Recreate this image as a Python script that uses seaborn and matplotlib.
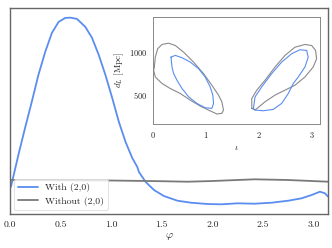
import numpy as np
import pandas as pd
import matplotlib
matplotlib.use("Agg")
import matplotlib.pyplot as plt
import seaborn as sns

# ---- main panel data (phi, relative density) ----
phi_with = [0.00, 0.01, 0.083, 0.149, 0.215, 0.281, 0.348, 0.414, 0.48, 0.546, 0.596, 0.662,
            0.745, 0.811, 0.877, 0.943, 1.010, 1.076, 1.142, 1.175, 1.208, 1.258, 1.274, 1.341,
            1.423, 1.52, 1.655, 1.787, 1.953, 2.085, 2.251, 2.416, 2.582, 2.748, 2.88, 2.979,
            3.062, 3.111, 3.1416]
dens_with = [0.265, 0.273, 0.59, 0.86, 1.12, 1.39, 1.62, 1.81, 1.92, 1.96, 1.963, 1.95,
             1.87, 1.76, 1.59, 1.39, 1.16, 0.92, 0.72, 0.64, 0.56, 0.47, 0.42, 0.32,
             0.24, 0.18, 0.133, 0.113, 0.100, 0.097, 0.107, 0.103, 0.113, 0.133, 0.157, 0.19,
             0.223, 0.207, 0.175]
phi_without = [0.0, 0.5, 1.0, 1.5, 1.755, 2.0, 2.416, 2.748, 3.1416]
dens_without = [0.340, 0.338, 0.335, 0.328, 0.323, 0.330, 0.347, 0.340, 0.323]

# ---- inset contour outlines (iota, d_L) ----
grey_left_iota = [0.024, 0.043, 0.087, 0.169, 0.294, 0.419, 0.576, 0.763, 0.951, 1.109, 1.234,
                  1.297, 1.328, 1.297, 1.203, 1.045, 0.889, 0.701, 0.513, 0.325, 0.169, 0.043,
                  0.011, 0.024]
grey_left_dl = [820, 936, 1034, 1084, 1099, 1072, 994, 878, 743, 607, 491, 413, 316, 278, 270,
                316, 363, 432, 510, 568, 627, 703, 781, 820]
blue_left_iota = [0.338, 0.357, 0.388, 0.451, 0.545, 0.670, 0.827, 0.983, 1.109, 1.140, 1.127,
                  1.077, 0.983, 0.857, 0.701, 0.545, 0.419, 0.338]
blue_left_dl = [936, 820, 743, 665, 569, 471, 394, 343, 336, 394, 491, 587, 703, 801, 878, 929,
                956, 936]
grey_right_iota = [1.861, 1.861, 1.955, 2.111, 2.299, 2.487, 2.675, 2.863, 2.989, 3.064, 3.083,
                   3.019, 2.863, 2.675, 2.487, 2.299, 2.111, 1.923, 1.861]
grey_right_dl = [336, 452, 549, 665, 820, 956, 1052, 1084, 1072, 1014, 917, 820, 703, 607, 549,
                 491, 413, 316, 336]
blue_right_iota = [1.892, 1.923, 2.048, 2.237, 2.425, 2.613, 2.769, 2.895, 2.925, 2.863, 2.737,
                   2.643, 2.549, 2.425, 2.267, 2.079, 1.923, 1.892]
blue_right_dl = [336, 471, 587, 743, 878, 976, 1022, 1014, 936, 820, 703, 627, 510, 394, 324,
                 308, 316, 336]

xticks_main = [0.0, 0.5, 1.0, 1.5, 2.0, 2.5, 3.0]
xticks_inset = [0, 1, 2, 3]
yticks_inset = [500, 1000]
labels = ["With (2,0)", "Without (2,0)"]

BLUE = "#5b8def"
GREY = "#7a7a7a"

sns.set_style("white")
plt.rcParams["font.family"] = ["cmr10", "DejaVu Serif"]
plt.rcParams["mathtext.fontset"] = "cm"
plt.rcParams["axes.formatter.use_mathtext"] = True

fig = plt.figure(figsize=(3.32, 2.48), dpi=100)
ax = fig.add_axes([0.030, 0.137, 0.958, 0.831])

sns.lineplot(x=phi_with, y=dens_with, ax=ax, color=BLUE, lw=1.3, label=labels[0])
sns.lineplot(x=phi_without, y=dens_without, ax=ax, color=GREY, lw=1.3, label=labels[1])
ax.set_xlim(0, np.pi)
ax.set_ylim(0, 2.06)
ax.set_yticks([])
ax.set_xticks(xticks_main)
ax.set_xticklabels([f"{t:.1f}" for t in xticks_main])
ax.tick_params(axis="x", labelsize=7, length=3, width=0.8, color="#555555", pad=2, direction="out")
ax.set_xlabel(r"$\varphi$", fontsize=8, labelpad=1)
for s in ax.spines.values():
    s.set_color("#666666")
    s.set_linewidth(1.0)
leg = ax.legend(loc="lower left", fontsize=7, frameon=True, borderaxespad=0.4,
                handlelength=2.0, handletextpad=0.75, labelspacing=0.45, borderpad=0.45)
leg.get_frame().set_edgecolor("#dddddd")
leg.get_frame().set_linewidth(0.8)

ins = fig.add_axes([0.461, 0.499, 0.502, 0.434])
for xi, yi, c in [(grey_left_iota, grey_left_dl, "#8a8a8a"), (blue_left_iota, blue_left_dl, BLUE),
                  (grey_right_iota, grey_right_dl, "#8a8a8a"), (blue_right_iota, blue_right_dl, BLUE)]:
    sns.lineplot(x=xi, y=yi, ax=ins, sort=False, estimator=None, color=c, lw=0.8)
ins.set_xlim(0, np.pi)
ins.set_ylim(150, 1410)
ins.set_xticks(xticks_inset)
ins.set_yticks(yticks_inset)
ins.tick_params(labelsize=6, length=2.5, width=0.6, color="#666666", pad=1.5)
ins.set_xlabel(r"$\iota$", fontsize=7, labelpad=3)
ins.set_ylabel(r"$d_L$ [Mpc]", fontsize=6.5, labelpad=2)
for s in ins.spines.values():
    s.set_color("#888888")
    s.set_linewidth(0.7)

fig.savefig("out.png", dpi=100)
